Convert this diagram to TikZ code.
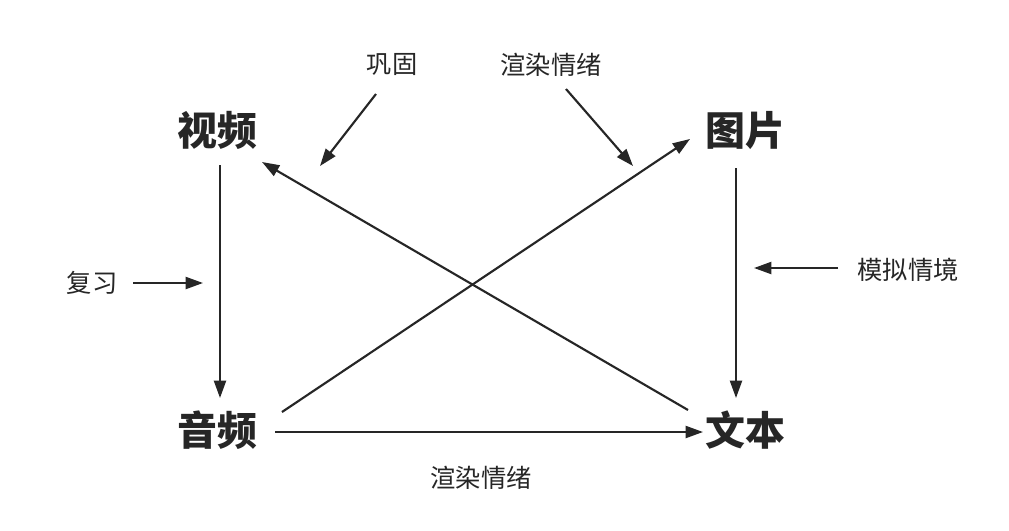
\documentclass[tikz,border=0pt]{standalone}
\usepackage{fontspec}
\newfontfamily\cjk{Noto Sans CJK SC}
\usetikzlibrary{arrows.meta}
\begin{document}
\begin{tikzpicture}[x=0.0264cm,y=-0.0264cm,
  big/.style={font=\cjk\fontsize{30}{30}\selectfont\bfseries, text=black!85},
  small/.style={font=\cjk\fontsize{19}{19}\selectfont, text=black!85},
  arr/.style={-{Triangle[length=13pt,width=9pt]}, line width=1.6pt, black!85}]
\useasboundingbox[fill=white] (0,0) rectangle (1009,530);
\node[big] (v) at (217,130) {视频};
\node[big] (p) at (745,130) {图片};
\node[big] (a) at (217,430) {音频};
\node[big] (t) at (745,430) {文本};
\node[small] (g) at (392,65) {巩固};
\node[small] (r1) at (551,65) {渲染情绪};
\node[small] (f) at (92,283) {复习};
\node[small] (m) at (908,270) {模拟情境};
\node[small] (r2) at (481,478) {渲染情绪};
\draw[arr] (220,165) -- (220,398);
\draw[arr] (736,168) -- (736,398);
\draw[arr] (275,432) -- (703,432);
\draw[arr] (282,412) -- (690,139);
\draw[arr] (688,410) -- (262,162);
\draw[arr] (376,94) -- (320,166);
\draw[arr] (566,89) -- (633,166);
\draw[arr] (133,283) -- (203,283);
\draw[arr] (838,268) -- (754,268);
\end{tikzpicture}
\end{document}
